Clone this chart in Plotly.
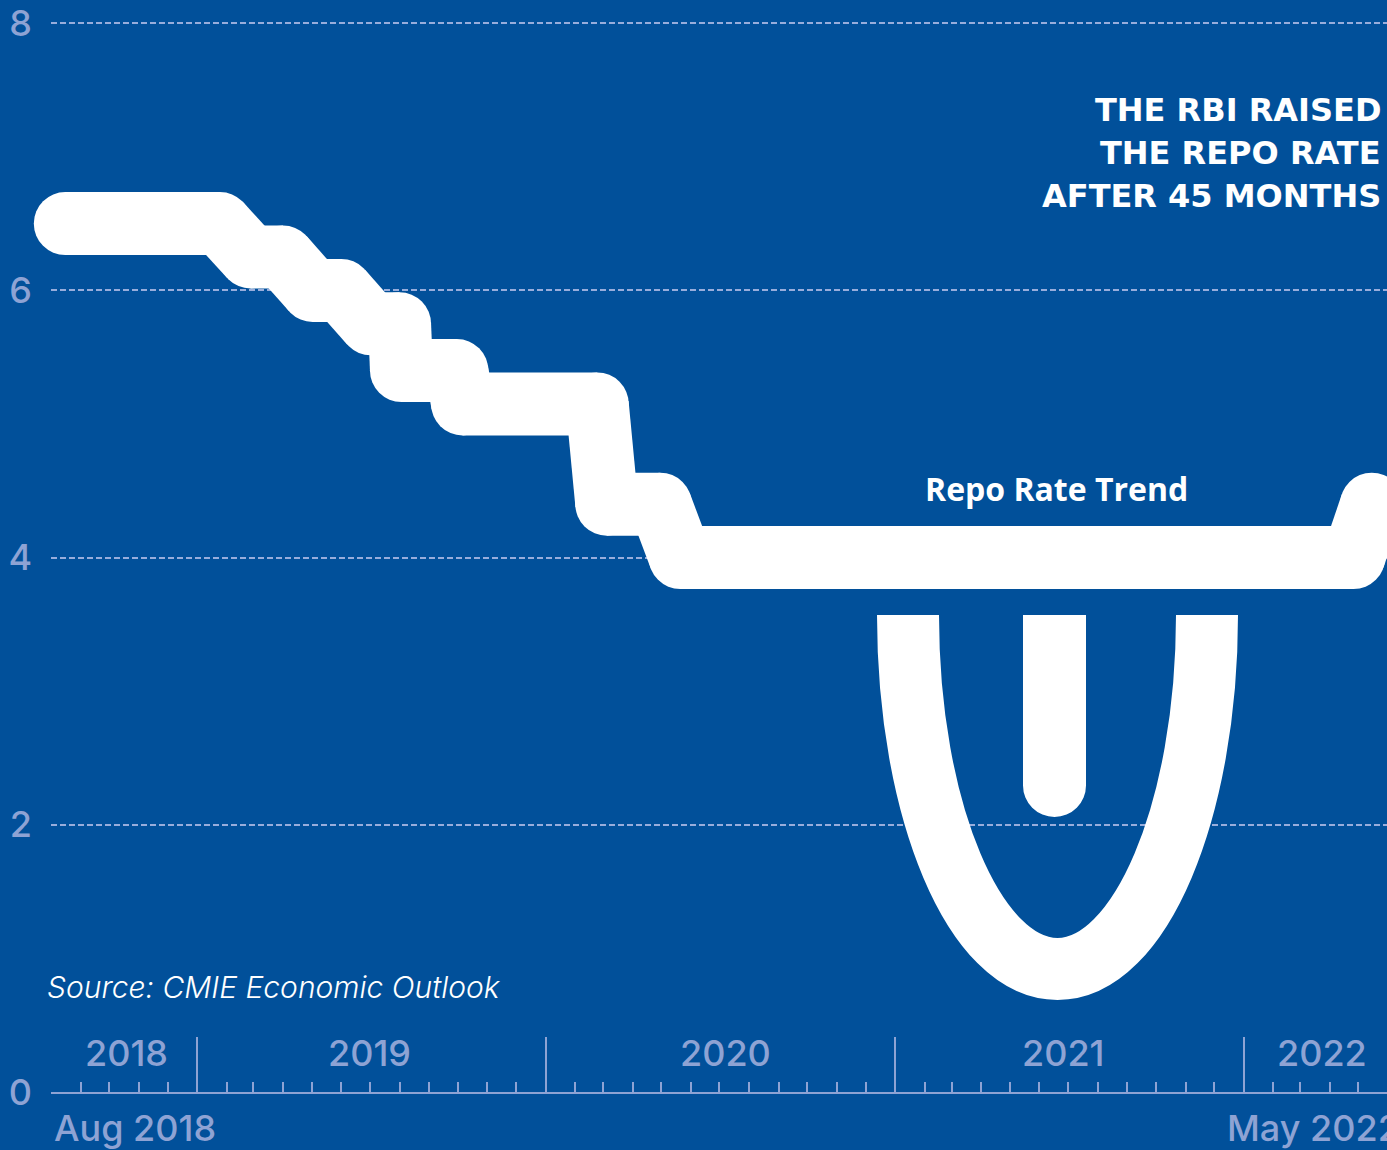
import plotly.graph_objects as go

# Repo rate path: each policy level with the dates where its plotted step starts and ends
rate_dates = [
    "2018-08-16", "2019-01-25",
    "2019-02-26", "2019-04-01",
    "2019-05-02", "2019-06-01",
    "2019-07-02", "2019-08-01",
    "2019-08-03", "2019-09-30",
    "2019-10-06", "2020-02-24",
    "2020-03-05", "2020-04-30",
    "2020-05-21", "2022-04-26",
    "2022-05-15",
]
rate_values = [
    6.50, 6.50,
    6.25, 6.25,
    6.00, 6.00,
    5.75, 5.75,
    5.40, 5.40,
    5.15, 5.15,
    4.40, 4.40,
    4.00, 4.00,
    4.40,
]

year_labels = ["2018", "2019", "2020", "2021", "2022"]
year_label_dates = ["2018-10-19", "2019-07-01", "2020-07-07", "2021-06-26", "2022-03-24"]
y_tick_values = [0, 2, 4, 6, 8]

start_label = "Aug 2018"
end_label = "May 2022"
headline = ["THE RBI RAISED", "THE REPO RATE", "AFTER 45 MONTHS"]
series_name = "Repo Rate Trend"
source_text = "Source: CMIE Economic Outlook"

BG = "#01509a"
MUTED = "#8ea3d4"
GRID = "#98addc"
WHITE = "#ffffff"
STROKE = 63

# plot area in pixels (used to place the decorative drawing in paper units)
W, H = 1387, 1150
PL, PB = 51, 58
PW, PH = W - PL, H - PB


def px(x):
    return (x - PL) / PW


def py(y):
    return (PH - y) / PH


# split the path into separate segments so each vertex gets a round join from its marker
seg_x, seg_y = [], []
for i in range(len(rate_dates) - 1):
    seg_x += [rate_dates[i], rate_dates[i + 1], None]
    seg_y += [rate_values[i], rate_values[i + 1], None]

fig = go.Figure()
fig.add_trace(go.Scatter(
    x=seg_x, y=seg_y,
    mode="lines",
    line=dict(color=WHITE, width=STROKE),
    hoverinfo="skip",
    showlegend=False,
))
fig.add_trace(go.Scatter(
    x=rate_dates, y=rate_values,
    mode="markers",
    marker=dict(color=WHITE, size=STROKE, line=dict(width=0)),
    cliponaxis=False,
    name=series_name,
    showlegend=False,
))

# decorative horseshoe under the flat stretch of the line
ux0, ux1, ucx = 908, 1207, 1057.5
utop, ubot = 615, 969
k = 0.5523
ry = (ubot - utop) * k
rx = (ucx - ux0) * k
u_path = (
    f"M {px(ux0)},{py(utop)} "
    f"C {px(ux0)},{py(utop + ry)} {px(ucx - rx)},{py(ubot)} {px(ucx)},{py(ubot)} "
    f"C {px(ucx + rx)},{py(ubot)} {px(ux1)},{py(utop + ry)} {px(ux1)},{py(utop)}"
)
shapes = [
    dict(type="path", xref="paper", yref="paper", path=u_path,
         line=dict(color=WHITE, width=62), fillcolor="rgba(0,0,0,0)", layer="above"),
    dict(type="line", xref="paper", yref="paper",
         x0=px(1054.5), x1=px(1054.5), y0=py(615), y1=py(785.5),
         line=dict(color=WHITE, width=63), layer="above"),
    dict(type="circle", xref="paper", yref="paper",
         x0=px(1023), x1=px(1086), y0=py(817), y1=py(754),
         fillcolor=WHITE, line=dict(width=0), layer="above"),
]

annotations = []
for lbl, d in zip(year_labels, year_label_dates):
    annotations.append(dict(
        x=d, xref="x", y=py(1053), yref="paper", text=lbl, showarrow=False,
        xanchor="center", yanchor="middle",
        font=dict(family="Inter", size=36, color=MUTED, weight=500),
    ))
annotations.append(dict(
    x=px(52), xref="paper", y=py(1128), yref="paper", text=start_label, showarrow=False,
    xanchor="left", yanchor="middle",
    font=dict(family="Inter", size=36, color=MUTED, weight=500),
))
annotations.append(dict(
    x=px(1225), xref="paper", y=py(1128), yref="paper", text=end_label, showarrow=False,
    xanchor="left", yanchor="middle",
    font=dict(family="Inter", size=36, color=MUTED, weight=500),
))
for line_text, yc in zip(headline, [110, 153, 196]):
    annotations.append(dict(
        x=px(1383), xref="paper", y=py(yc), yref="paper", text=line_text, showarrow=False,
        xanchor="right", yanchor="middle",
        font=dict(family="DejaVu Sans", size=32, color=WHITE, weight=700),
    ))
annotations.append(dict(
    x=px(1056), xref="paper", y=py(489), yref="paper", text=series_name, showarrow=False,
    xanchor="center", yanchor="middle",
    font=dict(family="Open Sans", size=32, color=WHITE, weight=700),
))
annotations.append(dict(
    x=px(45), xref="paper", y=py(987), yref="paper", text=source_text, showarrow=False,
    xanchor="left", yanchor="middle",
    font=dict(family="Inter", size=30, color=WHITE, weight=300, style="italic"),
))

fig.update_layout(
    width=W, height=H,
    margin=dict(l=PL, r=0, t=0, b=PB, pad=0),
    paper_bgcolor=BG, plot_bgcolor=BG,
    shapes=shapes,
    annotations=annotations,
    showlegend=False,
    xaxis=dict(
        type="date",
        range=["2018-08-01", "2022-05-31"],
        showgrid=False, zeroline=False,
        showline=True, linecolor=MUTED, linewidth=2,
        tick0="2019-01-01", dtick="M12",
        ticks="inside", ticklen=55, tickwidth=2, tickcolor=MUTED,
        showticklabels=False,
        minor=dict(ticks="inside", ticklen=10, tickwidth=2, tickcolor=MUTED,
                   dtick="M1", tick0="2018-08-01", showgrid=False),
        fixedrange=True,
    ),
    yaxis=dict(
        range=[0, PH / 133.6],
        tickvals=y_tick_values,
        showgrid=True, gridcolor=GRID, gridwidth=2, griddash="6px,3px",
        zeroline=False, showline=False, ticks="",
        ticklabelstandoff=18,
        tickfont=dict(family="Inter", size=36, color=MUTED, weight=500),
        fixedrange=True,
    ),
)

fig.write_html("out.html")
